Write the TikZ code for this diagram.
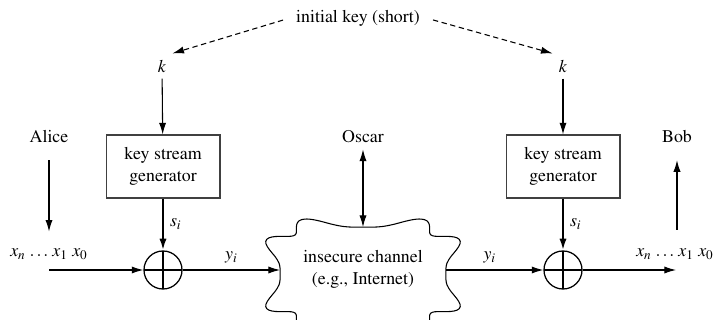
\documentclass[tikz,border=0pt]{standalone}
\usepackage[T1]{fontenc}
\usepackage{mathptmx}
\usetikzlibrary{arrows.meta}

\begin{document}
\begin{tikzpicture}[x=0.56pt,y=0.56pt,
    >={Latex[length=6.5pt,width=4pt]},
    every node/.style={font=\fontsize{10}{12.3}\selectfont},
    arr/.style={->,line width=0.6pt},
    darr/.style={<->,line width=0.6pt},
    thickarr/.style={->,line width=1.2pt},
    dasharr/.style={->,line width=0.6pt,dash pattern=on 3pt off 2pt},
    genbox/.style={draw=black!75,line width=0.6pt,minimum width=63.8pt,
      minimum height=35.3pt,align=center,inner sep=1pt},
    xorop/.style={circle,draw,line width=0.7pt,minimum size=21.3pt,inner sep=0pt,
      path picture={\draw[line width=0.6pt]
        (path picture bounding box.north) -- (path picture bounding box.south)
        (path picture bounding box.west) -- (path picture bounding box.east);}}
  ]
  \useasboundingbox (0,0) rectangle (718,320);
  \node (init) at (358,302) {initial key (short)};
  \node (kL) at (162,254) {$k$};
  \node (kR) at (563,254) {$k$};
  \node[genbox] (genL) at (163,153.5) {key stream\\generator};
  \node[genbox] (genR) at (563,153.5) {key stream\\generator};
  \node (alice) at (49,183) {Alice};
  \node (oscar) at (363,183) {Oscar};
  \node (bob) at (677,183) {Bob};
  \node[xorop] (xorL) at (163,50) {};
  \node[xorop] (xorR) at (563,50) {};
  \node (xL) at (49,66) {$x_n\,\ldots\,x_1\ x_0$};
  \node (xR) at (675,66) {$x_n\,\ldots\,x_1\ x_0$};
  \node[align=center] (chan) at (363,51) {insecure channel\\(e.g., Internet)};
  \draw[line width=0.6pt] plot[domain=1.25:358.75,samples=144,smooth cycle]
    ({363+92*(1-0.1*cos(8*\x))*sign(cos(\x))*abs(cos(\x))^0.55},
     {46+52*(1-0.1*cos(8*\x))*sign(sin(\x))*abs(sin(\x))^0.55});
  \coordinate (chW) at (280,50);
  \coordinate (chE) at (446,50);
  \coordinate (chN) at (363,93);
  \coordinate (out) at (676,50);

  \draw[dasharr,shorten <=4pt] (init.west) -- (kL.north east);
  \draw[dasharr,shorten <=4pt] (init.east) -- (kR.north west);
  \draw[arr] (kL) -- (genL);
  \draw[arr] (kR) -- (genR);
  \draw[thickarr] (genL) -- node[right] {$s_i$} (xorL);
  \draw[thickarr] (genR) -- node[right] {$s_i$} (xorR);
  \draw[arr,shorten <=6pt,shorten >=6pt] (alice) -- (alice |- xL.north);
  \draw[arr] (xL.south |- xorL) -- (xorL);
  \draw[arr] (xorL) -- node[above] {$y_i$} (chW);
  \draw[darr] (oscar) -- (chN);
  \draw[arr] (chE) -- node[above,pos=0.45] {$y_i$} (xorR);
  \draw[arr] (xorR) -- (out);
  \draw[arr,shorten <=7pt,shorten >=6pt] (xR.north -| bob) -- (bob);
\end{tikzpicture}
\end{document}
